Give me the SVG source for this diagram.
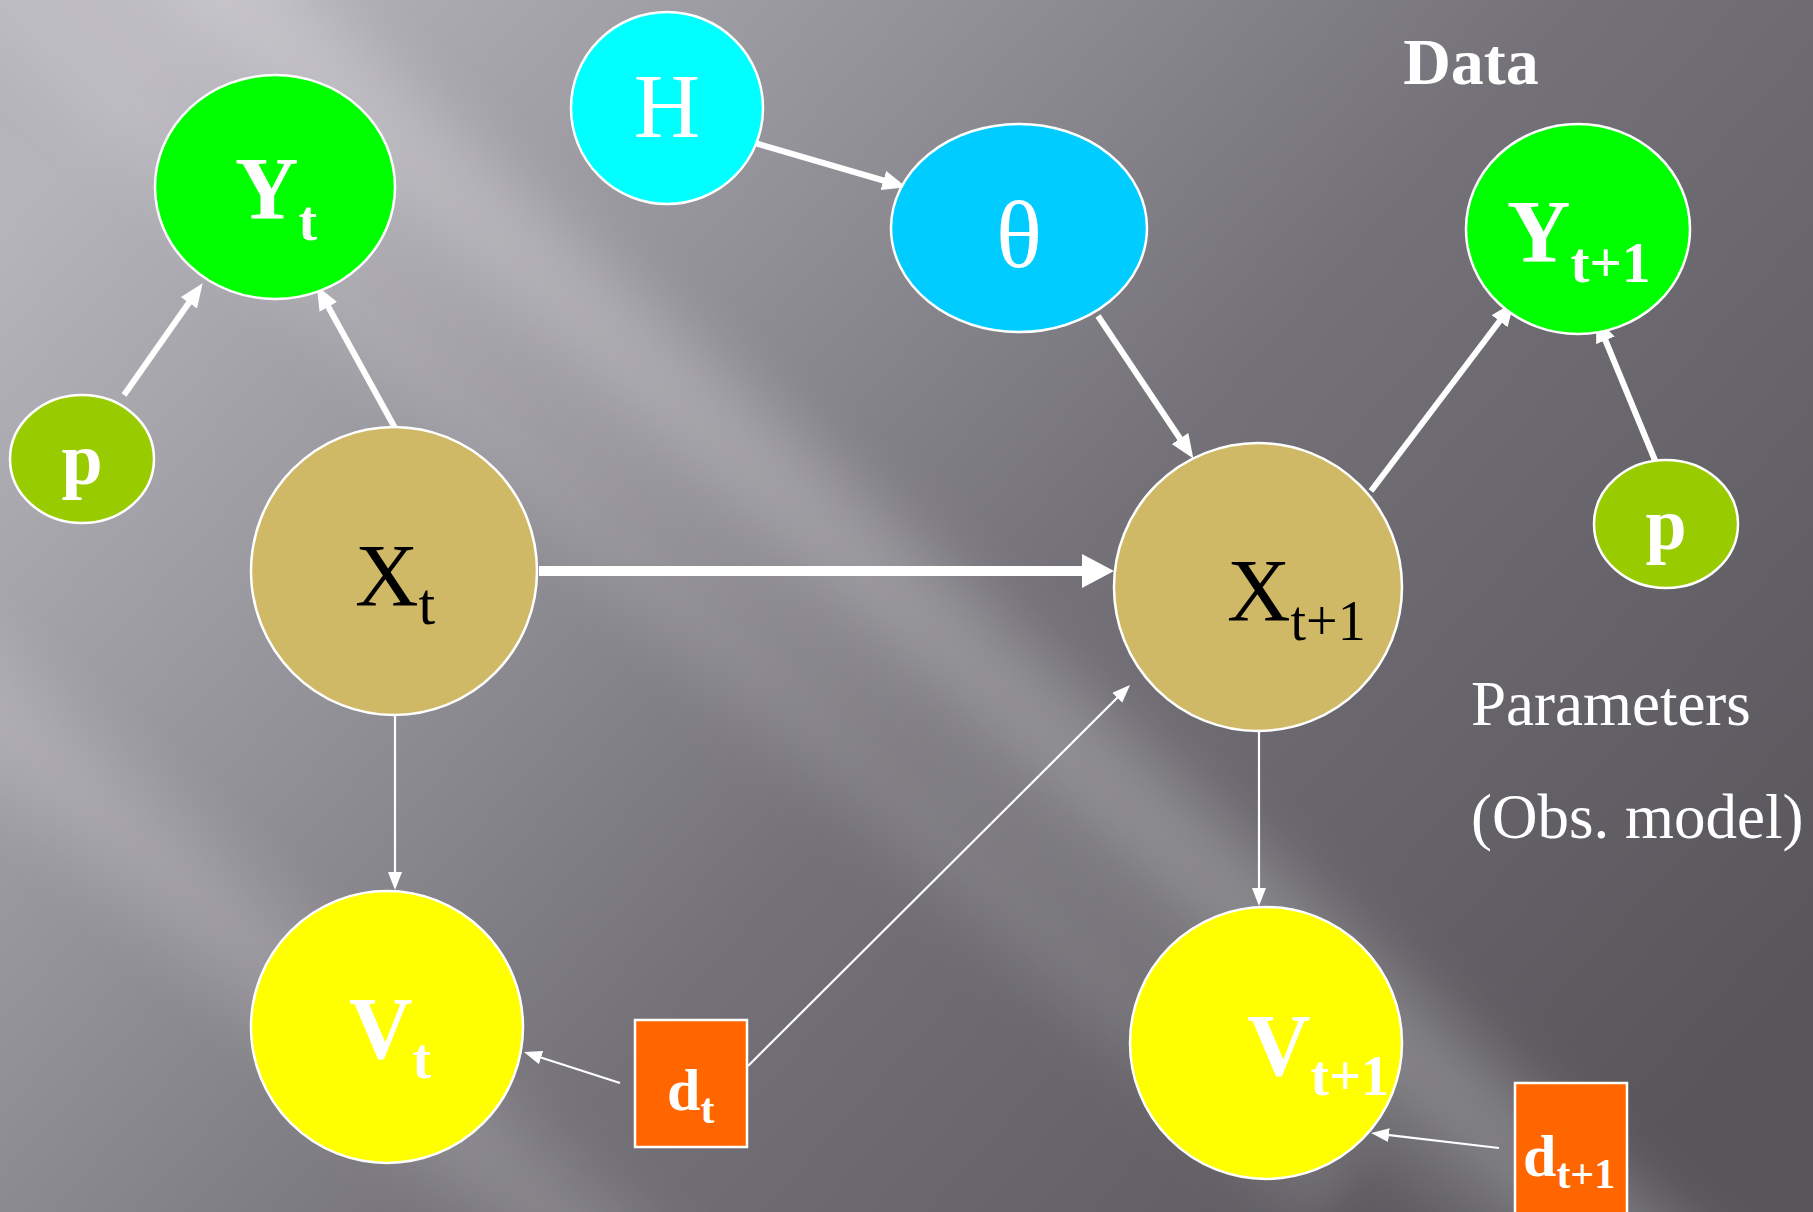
<svg xmlns="http://www.w3.org/2000/svg" width="1813" height="1212" viewBox="0 0 1813 1212">
<defs>
<linearGradient id="bg" x1="0" y1="0.2" x2="1" y2="0.8">
<stop offset="0" stop-color="#b6b4bb"/>
<stop offset="0.3" stop-color="#939198"/>
<stop offset="0.55" stop-color="#747278"/>
<stop offset="1" stop-color="#58565b"/>
</linearGradient>
<linearGradient id="band" x1="0" y1="0" x2="0" y2="1">
<stop offset="0" stop-color="#ffffff" stop-opacity="0"/>
<stop offset="0.5" stop-color="#ffffff" stop-opacity="1"/>
<stop offset="1" stop-color="#ffffff" stop-opacity="0"/>
</linearGradient>
<filter id="soft" x="-0.2" y="-0.2" width="1.4" height="1.4">
<feGaussianBlur stdDeviation="18"/>
</filter>
<marker id="ahBig" markerUnits="userSpaceOnUse" markerWidth="34" markerHeight="36" refX="12" refY="17" orient="auto">
<path d="M0,0 L32,17 L0,34 z" fill="#fff"/>
</marker>
<marker id="ahMed" markerUnits="userSpaceOnUse" markerWidth="26" markerHeight="22" refX="9" refY="10" orient="auto">
<path d="M0,0 L24,10 L0,20 z" fill="#fff"/>
</marker>
<marker id="ahThin" markerUnits="userSpaceOnUse" markerWidth="20" markerHeight="16" refX="6" refY="7" orient="auto">
<path d="M0,0 L18,7 L0,14 z" fill="#fff"/>
</marker>
</defs>
<style>
.node ellipse, .node rect { stroke: #ffffff; stroke-width: 2.5; }
.lbl { font-family: "Liberation Serif", "Times New Roman", serif; }
.w { fill: #ffffff; }
.k { fill: #000000; }
.b { font-weight: bold; }
.conn { stroke: #ffffff; fill: none; stroke-linecap: butt; }
.thick { stroke-width: 10; marker-end: url(#ahBig); }
.med { stroke-width: 6; marker-end: url(#ahMed); }
.thin { stroke-width: 2.2; marker-end: url(#ahThin); }
</style>

<g id="background">
<rect x="0" y="0" width="1813" height="1212" fill="url(#bg)"/>
<g filter="url(#soft)">
<rect x="-1600" y="-110" width="3200" height="220" fill="url(#band)" opacity="0.2" transform="translate(700,440) rotate(42)"/>
<rect x="-1600" y="-90" width="3200" height="180" fill="url(#band)" opacity="0.16" transform="translate(200,900) rotate(42)"/>
<rect x="-1600" y="-60" width="3200" height="120" fill="url(#band)" opacity="0.09" transform="translate(1150,800) rotate(42)"/>
<rect x="-1600" y="-80" width="3200" height="160" fill="url(#band)" opacity="0.12" transform="translate(150,120) rotate(42)"/>
</g>
</g>

<g id="connectors">
<path class="conn med" d="M124,395 L194,295.5"/>
<path class="conn med" d="M395,428 L324,299"/>
<path class="conn med" d="M748,141 L892,183"/>
<path class="conn med" d="M1098,316 L1185,446"/>
<path class="conn thick" d="M539,571 L1094,571"/>
<path class="conn med" d="M1371,491 L1505,314"/>
<path class="conn med" d="M1659,470 L1602,332"/>
<path class="conn thin" d="M395,716 L395,878"/>
<path class="conn thin" d="M1259,732 L1259,894"/>
<path class="conn thin" d="M748,1066 L1121.5,693.5"/>
<path class="conn thin" d="M620,1083 L535.4,1055.7"/>
<path class="conn thin" d="M1499,1148 L1383,1134.4"/>
</g>

<g id="node-Yt" class="node">
<ellipse cx="275" cy="187" rx="120" ry="112" fill="#00ff00"/>
<text class="lbl w b" x="235" y="218" font-size="88">Y<tspan font-size="56" dy="22">t</tspan></text>
</g>
<g id="node-p-left" class="node">
<ellipse cx="82" cy="459" rx="72" ry="64" fill="#99cc00"/>
<text class="lbl w b" x="82" y="484" font-size="74" text-anchor="middle">p</text>
</g>
<g id="node-H" class="node">
<ellipse cx="667" cy="108" rx="96" ry="96" fill="#00ffff"/>
<text class="lbl w" x="667" y="137" font-size="92" text-anchor="middle">H</text>
</g>
<g id="node-theta" class="node">
<ellipse cx="1019" cy="228" rx="128" ry="104" fill="#00ccff"/>
<text class="lbl w" x="1019" y="267" font-size="96" text-anchor="middle">θ</text>
</g>
<g id="node-Yt1" class="node">
<ellipse cx="1578" cy="229" rx="112" ry="105" fill="#00ff00"/>
<text class="lbl w b" x="1507" y="261" font-size="88">Y<tspan font-size="57" dy="21">t+1</tspan></text>
</g>
<g id="node-p-right" class="node">
<ellipse cx="1666" cy="524" rx="72" ry="64" fill="#99cc00"/>
<text class="lbl w b" x="1666" y="549" font-size="74" text-anchor="middle">p</text>
</g>
<g id="node-Xt" class="node">
<ellipse cx="394" cy="571" rx="143" ry="144" fill="#cfb966"/>
<text class="lbl k" x="355" y="605" font-size="88">X<tspan font-size="60" dy="19">t</tspan></text>
</g>
<g id="node-Xt1" class="node">
<ellipse cx="1258" cy="587" rx="144" ry="144" fill="#cfb966"/>
<text class="lbl k" x="1227" y="620" font-size="88">X<tspan font-size="56" dy="20">t+1</tspan></text>
</g>
<g id="node-Vt" class="node">
<ellipse cx="387" cy="1027" rx="136" ry="136" fill="#ffff00"/>
<text class="lbl w b" x="349" y="1058" font-size="88">V<tspan font-size="56" dy="20">t</tspan></text>
</g>
<g id="node-Vt1" class="node">
<ellipse cx="1266" cy="1043" rx="136" ry="136" fill="#ffff00"/>
<text class="lbl w b" x="1247" y="1075" font-size="88">V<tspan font-size="56" dy="20">t+1</tspan></text>
</g>
<g id="node-dt" class="node">
<rect x="635" y="1020" width="112" height="127" fill="#ff6600"/>
<text class="lbl w b" x="667" y="1110" font-size="60">d<tspan font-size="42" dy="13">t</tspan></text>
</g>
<g id="node-dt1" class="node">
<rect x="1515" y="1083" width="112" height="135" fill="#ff6600"/>
<text class="lbl w b" x="1523" y="1176" font-size="60">d<tspan font-size="42" dy="12">t+1</tspan></text>
</g>

<g id="labels">
<text class="lbl w b" x="1471" y="84" font-size="66" text-anchor="middle">Data</text>
<text class="lbl w" x="1471" y="725" font-size="63">Parameters</text>
<text class="lbl w" x="1471" y="838" font-size="63">(Obs. model)</text>
</g>
</svg>
